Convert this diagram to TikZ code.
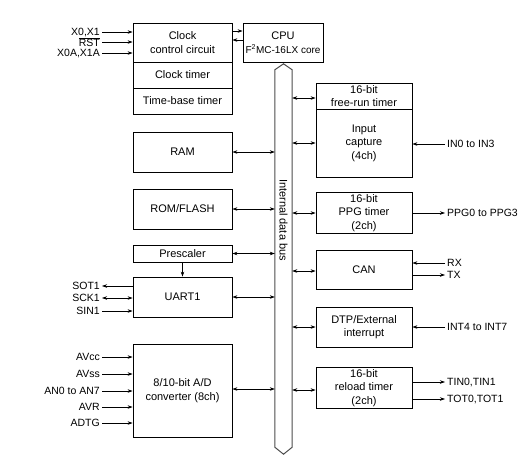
\documentclass[tikz,border=0pt]{standalone}
\usepackage{fontspec}
\setmainfont{Liberation Sans}
\usetikzlibrary{positioning, arrows.meta, calc}
\tikzset{
  blk/.style={draw, line width=0.8pt, align=center, inner sep=2pt, font=\fontsize{11}{13.5}\selectfont},
  pinl/.style={anchor=east, inner sep=2pt, font=\fontsize{10.5}{12}\selectfont},
  pinr/.style={anchor=west, inner sep=2pt, font=\fontsize{10.5}{12}\selectfont},
  arr/.style={-{Stealth[length=5pt,width=3.5pt]}, line width=0.6pt},
  biarr/.style={{Stealth[length=5pt,width=3.5pt]}-{Stealth[length=5pt,width=3.5pt]}, line width=0.6pt},
  busline/.style={draw=black!70, line width=1pt}
}
\begin{document}
\begin{tikzpicture}[x=1pt, y=-1pt]
  \useasboundingbox (0,0) rectangle (529,459);
  % left column
  \node[blk, minimum width=99, minimum height=39] (clkctl) at (182.5,42.5) {Clock\\control circuit};
  \node[blk, minimum width=99, minimum height=26] (clktim) at (182.5,75) {Clock timer};
  \node[blk, minimum width=99, minimum height=26] (tbtim) at (182.5,101) {Time-base timer};
  \node[blk, minimum width=80, minimum height=39] (cpu) at (283,42.5) {CPU\\{\fontsize{10}{12}\selectfont F\textsuperscript{\scriptsize 2}MC-16LX core}};
  \node[blk, minimum width=99, minimum height=40] (ram) at (182.5,152) {RAM};
  \node[blk, minimum width=99, minimum height=40] (rom) at (182.5,209) {ROM/FLASH};
  \node[blk, minimum width=99, minimum height=17] (presc) at (182.5,253.5) {Prescaler};
  \node[blk, minimum width=99, minimum height=40] (uart) at (182.5,297) {UART1};
  \node[blk, minimum width=99, minimum height=93] (adc) at (182.5,390.5) {8/10-bit A/D\\converter (8ch)};
  % right column
  \node[blk, minimum width=96, minimum height=26] (frt) at (364,96) {16-bit\\free-run timer};
  \node[blk, minimum width=96, minimum height=68] (icap) at (364,143) {Input\\capture\\(4ch)};
  \node[blk, minimum width=96, minimum height=40] (ppg) at (364,213) {16-bit\\PPG timer\\(2ch)};
  \node[blk, minimum width=96, minimum height=39] (can) at (364,269.5) {CAN};
  \node[blk, minimum width=96, minimum height=40] (dtp) at (364,327) {DTP/External\\interrupt};
  \node[blk, minimum width=96, minimum height=40] (rlt) at (364,388) {16-bit\\reload timer\\(2ch)};
  % internal data bus
  \node[minimum width=17, minimum height=377, inner sep=0] (bus) at (283.5,258.5) {};
  \draw[busline] (bus.north west) -- ($(bus.north)+(0,-6)$) -- (bus.north east)
    -- (bus.south east) -- ($(bus.south)+(0,7)$) -- (bus.south west) -- cycle;
  \node[rotate=-90, font=\fontsize{11}{12}\selectfont] (buslbl) at (283.5,220) {Internal data bus};
  % clock and cpu
  \draw[arr] (clkctl.east |- 0,31) -- (cpu.west |- 0,31);
  \draw[arr] (cpu.west |- 0,40) -- (clkctl.east |- 0,40);
  % bus connections
  \draw[biarr] (ram.east) -- (ram.east -| bus.west);
  \draw[biarr] (rom.east) -- (rom.east -| bus.west);
  \draw[biarr] (presc.east) -- (presc.east -| bus.west);
  \draw[biarr] (uart.east) -- (uart.east -| bus.west);
  \draw[biarr] (adc.east |- 0,389) -- (bus.west |- 0,389);
  \draw[biarr] (frt.west |- 0,98) -- (bus.east |- 0,98);
  \draw[biarr] (icap.west) -- (icap.west -| bus.east);
  \draw[biarr] (ppg.west) -- (ppg.west -| bus.east);
  \draw[biarr] (can.west |- 0,271) -- (bus.east |- 0,271);
  \draw[biarr] (dtp.west) -- (dtp.west -| bus.east);
  \draw[biarr] (rlt.west |- 0,390) -- (bus.east |- 0,390);
  \draw[arr] (presc) -- (uart);
  % left pins
  \node[pinl] (x0) at (102,32) {X0,X1};
  \node[pinl] (rst) at (102,42) {$\overline{\mbox{RST}}$};
  \node[pinl] (x0a) at (102,53) {X0A,X1A};
  \draw[arr] (x0.east) -- (x0.east -| clkctl.west);
  \draw[arr] (rst.east) -- (rst.east -| clkctl.west);
  \draw[arr] (x0a.east) -- (x0a.east -| clkctl.west);
  \node[pinl] (sot) at (102,286) {SOT1};
  \node[pinl] (sck) at (102,298) {SCK1};
  \node[pinl] (sin) at (102,311) {SIN1};
  \draw[arr] (sot.east -| uart.west) -- (sot.east);
  \draw[biarr] (sck.east) -- (sck.east -| uart.west);
  \draw[arr] (sin.east) -- (sin.east -| uart.west);
  \node[pinl] (avcc) at (102,357) {AVcc};
  \node[pinl] (avss) at (102,374) {AVss};
  \node[pinl] (an) at (102,391) {AN0 to AN7};
  \node[pinl] (avr) at (102,407) {AVR};
  \node[pinl] (adtg) at (102,423) {ADTG};
  \draw[arr] (avcc.east) -- (avcc.east -| adc.west);
  \draw[arr] (avss.east) -- (avss.east -| adc.west);
  \draw[arr] (an.east) -- (an.east -| adc.west);
  \draw[arr] (avr.east) -- (avr.east -| adc.west);
  \draw[arr] (adtg.east) -- (adtg.east -| adc.west);
  % right pins
  \node[pinr] (in) at (445,144) {IN0 to IN3};
  \node[pinr] (ppgo) at (445,213) {PPG0 to PPG3};
  \node[pinr] (rx) at (445,263) {RX};
  \node[pinr] (tx) at (445,275) {TX};
  \node[pinr] (int) at (445,327) {INT4 to INT7};
  \node[pinr] (tin) at (445,382) {TIN0,TIN1};
  \node[pinr] (tot) at (445,399) {TOT0,TOT1};
  \draw[arr] (in.west) -- (in.west -| icap.east);
  \draw[arr] (ppgo.west -| ppg.east) -- (ppgo.west);
  \draw[arr] (rx.west) -- (rx.west -| can.east);
  \draw[arr] (tx.west -| can.east) -- (tx.west);
  \draw[arr] (int.west) -- (int.west -| dtp.east);
  \draw[arr] (tin.west -| rlt.east) -- (tin.west);
  \draw[arr] (tot.west -| rlt.east) -- (tot.west);
\end{tikzpicture}
\end{document}
